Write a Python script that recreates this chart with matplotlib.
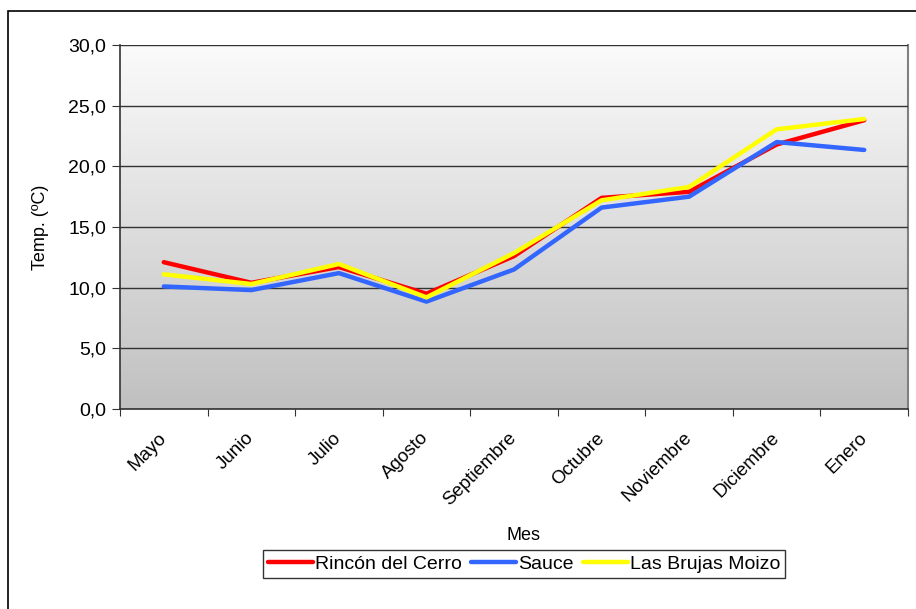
import numpy as np
import matplotlib
matplotlib.use("Agg")
import matplotlib.pyplot as plt
from matplotlib.patches import Rectangle
from matplotlib.ticker import FuncFormatter, FixedLocator
from matplotlib.transforms import ScaledTranslation

plt.rcParams['font.family'] = ['Liberation Sans', 'DejaVu Sans']

meses = ['Mayo', 'Junio', 'Julio', 'Agosto', 'Septiembre', 'Octubre',
         'Noviembre', 'Diciembre', 'Enero']
rincon = [12.1, 10.4, 11.7, 9.5, 12.6, 17.4, 17.9, 21.8, 23.8]
sauce = [10.1, 9.8, 11.2, 8.85, 11.5, 16.6, 17.5, 22.0, 21.35]
brujas = [11.1, 10.3, 11.95, 9.2, 12.85, 17.2, 18.3, 23.05, 23.9]


def main():
    fig = plt.figure(figsize=(9.16, 6.09), dpi=100)
    fig.patch.set_facecolor('white')

    # outer frame of the chart
    fig.patches.append(Rectangle((8 / 916, -0.05), 1.1, 1 - 11 / 609 + 0.05,
                                 transform=fig.transFigure, fill=False,
                                 edgecolor='black', linewidth=1.2))

    ax = fig.add_axes([120 / 916, 1 - 409 / 609, 788 / 916, 364 / 609])
    x = np.arange(len(meses))

    # gradient background
    grad = np.linspace(0, 1, 256).reshape(-1, 1)
    ax.imshow(grad, extent=[0, 1, 0, 1], transform=ax.transAxes,
              cmap=matplotlib.colors.LinearSegmentedColormap.from_list(
                  'g', ['#c0c0c0', '#fbfbfb']),
              origin='lower', aspect='auto', zorder=0)

    ax.plot(x, rincon, color='#ff0000', lw=3.2, label='Rincón del Cerro',
            solid_capstyle='round', zorder=3)
    ax.plot(x, sauce, color='#3366ff', lw=3.2, label='Sauce',
            solid_capstyle='round', zorder=3)
    ax.plot(x, brujas, color='#ffff00', lw=3.2, label='Las Brujas Moizo',
            solid_capstyle='round', zorder=4)

    ax.set_xlim(-0.5, len(meses) - 0.5)
    ax.set_ylim(0, 30)
    ax.set_yticks(np.arange(0, 31, 5))
    ax.yaxis.set_major_formatter(FuncFormatter(lambda v, p: f'{v:.1f}'.replace('.', ',')))
    ax.yaxis.grid(True, color='#333333', lw=1.0)
    ax.set_axisbelow(False)

    # ticks between categories, labels at centers
    ax.xaxis.set_major_locator(FixedLocator(np.arange(-0.5, len(meses), 1)))
    ax.set_xticklabels([])
    ax.set_xticks(x, minor=True)
    labels = ax.set_xticklabels(meses, minor=True, rotation=45, ha='right',
                                va='center', rotation_mode='anchor', fontsize=13.5)
    shift = ScaledTranslation(-7 / 100, 0, fig.dpi_scale_trans)
    for lab in labels:
        lab.set_transform(lab.get_transform() + shift)
    ax.tick_params(axis='x', which='minor', length=0, pad=19)
    ax.tick_params(axis='x', which='major', length=5, color='#333333')
    ax.tick_params(axis='y', length=6, color='#333333', labelsize=14, pad=4)

    for s in ['left', 'bottom']:
        ax.spines[s].set_color('#333333')
        ax.spines[s].set_linewidth(1.2)
    ax.spines['top'].set_visible(False)
    ax.spines['right'].set_color('#808080')
    ax.spines['right'].set_linewidth(1.5)

    ax.set_ylabel('Temp. (ºC)', fontsize=13, labelpad=14)
    fig.text(524 / 916, 1 - 535 / 609, 'Mes', ha='center', va='center', fontsize=13)

    leg = fig.legend(loc='center', bbox_to_anchor=(524 / 916, 1 - 564 / 609),
                     ncol=3, fontsize=14, frameon=True, fancybox=False,
                     edgecolor='black', handlelength=2.3, handletextpad=0.1,
                     columnspacing=0.5, borderpad=0.25, borderaxespad=0)
    leg.get_frame().set_linewidth(1.0)

    fig.savefig('out.png', dpi=100)


if __name__ == "__main__":
    main()
